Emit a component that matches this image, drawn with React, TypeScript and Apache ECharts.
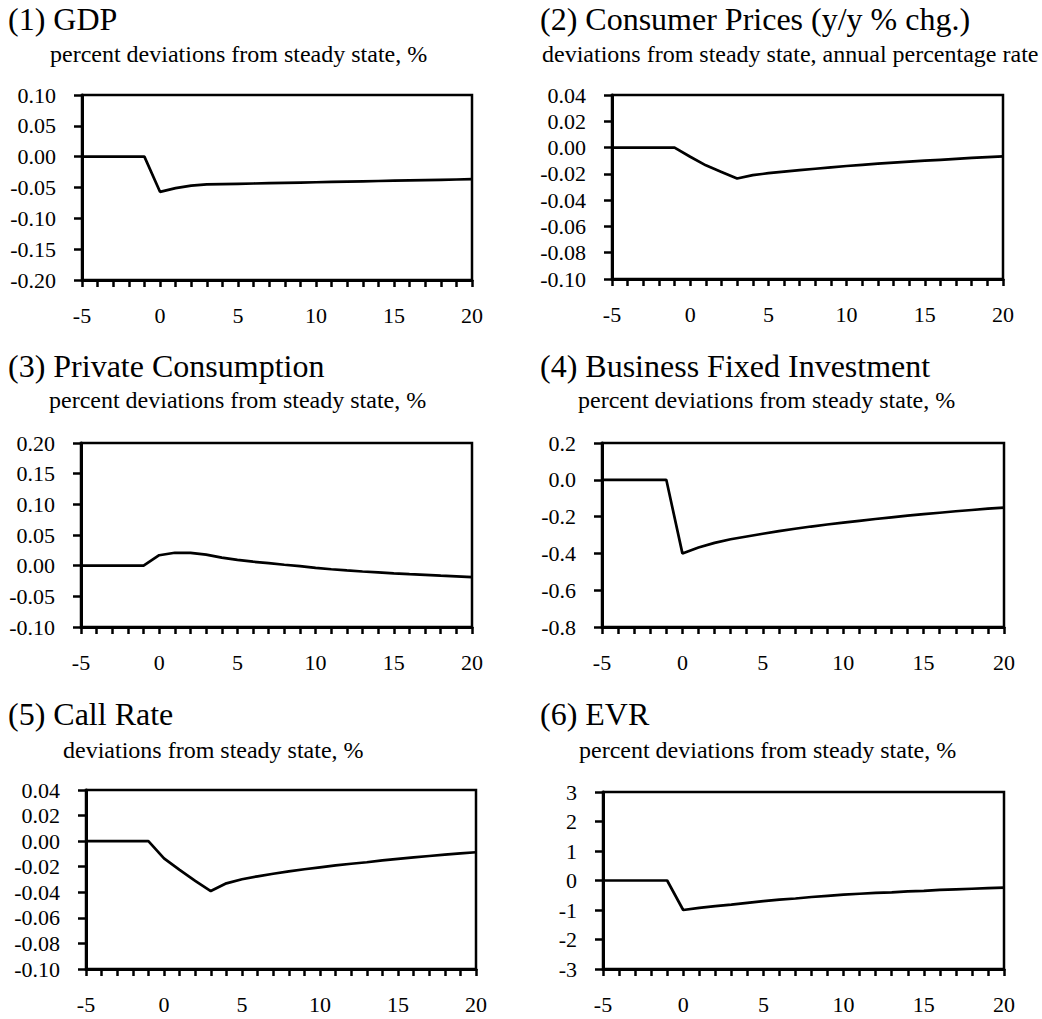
import React, { useEffect, useRef } from "react";
import * as echarts from "echarts";

// ---------- data ----------
const periods = [-5, -4, -3, -2, -1, 0, 1, 2, 3, 4, 5, 6, 7, 8, 9, 10, 11, 12, 13, 14, 15, 16, 17, 18, 19, 20];
const xLabelValues = [-5, 0, 5, 10, 15, 20];

const titles = [
  "(1) GDP",
  "(2) Consumer Prices (y/y % chg.)",
  "(3) Private Consumption",
  "(4) Business Fixed Investment",
  "(5) Call Rate",
  "(6) EVR",
];

const subtitles = [
  "percent deviations from steady state, %",
  "deviations from steady state, annual percentage rate",
  "percent deviations from steady state, %",
  "percent deviations from steady state, %",
  "deviations from steady state, %",
  "percent deviations from steady state, %",
];

const gdp = [0, 0, 0, 0, 0, -0.057, -0.051, -0.047, -0.045, -0.0445, -0.044, -0.0435, -0.043, -0.0425, -0.042, -0.0415, -0.041, -0.0405, -0.04, -0.0395, -0.039, -0.0385, -0.038, -0.0375, -0.037, -0.0365];
const cpi = [0, 0, 0, 0, 0, -0.007, -0.0135, -0.0185, -0.0235, -0.021, -0.0195, -0.0183, -0.0172, -0.0161, -0.015, -0.014, -0.0131, -0.0122, -0.0114, -0.0107, -0.01, -0.0093, -0.0086, -0.0079, -0.0073, -0.0067];
const consumption = [0, 0, 0, 0, 0, 0.017, 0.021, 0.021, 0.018, 0.013, 0.0095, 0.0065, 0.004, 0.0015, -0.0008, -0.0035, -0.0058, -0.0077, -0.0095, -0.011, -0.0125, -0.0138, -0.015, -0.0163, -0.0175, -0.0188];
const investment = [0, 0, 0, 0, 0, -0.4, -0.368, -0.343, -0.323, -0.308, -0.293, -0.279, -0.266, -0.254, -0.243, -0.233, -0.223, -0.213, -0.204, -0.195, -0.187, -0.179, -0.171, -0.164, -0.157, -0.151];
const callRate = [0, 0, 0, 0, 0, -0.0135, -0.0225, -0.031, -0.039, -0.033, -0.0298, -0.0275, -0.0255, -0.0237, -0.022, -0.0205, -0.019, -0.0177, -0.0165, -0.015, -0.0138, -0.0127, -0.0116, -0.0106, -0.0096, -0.0087];
const evr = [0, 0, 0, 0, 0, -1.0, -0.93, -0.87, -0.82, -0.76, -0.7, -0.65, -0.61, -0.56, -0.52, -0.48, -0.45, -0.42, -0.4, -0.37, -0.35, -0.32, -0.3, -0.28, -0.26, -0.24];

const seriesValues = [gdp, cpi, consumption, investment, callRate, evr];

// y-axis scales
const yMins = [-0.2, -0.1, -0.1, -0.8, -0.1, -3];
const yMaxs = [0.1, 0.04, 0.2, 0.2, 0.04, 3];
const yIntervals = [0.05, 0.02, 0.05, 0.2, 0.02, 1];
const yDecimals = [2, 2, 2, 1, 2, 0];

// ---------- layout ----------
const gridBoxes = [
  { left: 82, top: 95, width: 390, height: 185 },
  { left: 612, top: 95, width: 391, height: 184 },
  { left: 81, top: 443, width: 391, height: 184 },
  { left: 602, top: 443, width: 402, height: 184 },
  { left: 86, top: 790, width: 390, height: 179 },
  { left: 603, top: 792, width: 401, height: 177 },
];
const titlePos = [
  { x: 8, y: 19 },
  { x: 540, y: 19 },
  { x: 8, y: 366 },
  { x: 540, y: 366 },
  { x: 8, y: 714 },
  { x: 540, y: 714 },
];
const subtitlePos = [
  { x: 50, y: 54 },
  { x: 542, y: 54 },
  { x: 49, y: 400 },
  { x: 578, y: 400 },
  { x: 63, y: 750 },
  { x: 579, y: 750 },
];

const FONT = "'Liberation Serif', 'Times New Roman', serif";

export default function App() {
  const ref = useRef<HTMLDivElement>(null);

  useEffect(() => {
    if (!ref.current) return;
    const chart = echarts.init(ref.current, undefined, { renderer: "svg" });

    const grid = gridBoxes.map((g) => ({
      ...g,
      show: true,
      borderColor: "#000",
      borderWidth: 2.5,
      backgroundColor: "transparent",
      containLabel: false,
    }));

    const xAxis = gridBoxes.map((_, i) => ({
      type: "value",
      gridIndex: i,
      min: -5,
      max: 20,
      interval: 1,
      axisLine: { show: true, onZero: false, lineStyle: { color: "#000", width: 3 } },
      axisTick: { show: true, inside: false, length: 7, lineStyle: { color: "#000", width: 2.5 } },
      axisLabel: {
        show: true,
        margin: 24,
        color: "#000",
        fontFamily: FONT,
        fontSize: 22,
        formatter: (v: number) => (xLabelValues.indexOf(v) >= 0 ? String(v) : ""),
      },
      splitLine: { show: false },
    }));

    const yAxis = gridBoxes.map((_, i) => ({
      type: "value",
      gridIndex: i,
      min: yMins[i],
      max: yMaxs[i],
      interval: yIntervals[i],
      axisLine: { show: true, onZero: false, lineStyle: { color: "#000", width: 3 } },
      axisTick: { show: true, inside: false, length: 8, lineStyle: { color: "#000", width: 2.5 } },
      axisLabel: {
        show: true,
        margin: 26,
        color: "#000",
        fontFamily: FONT,
        fontSize: 22,
        formatter: (v: number) => {
          const s = Number(v).toFixed(yDecimals[i]);
          return s === "-0.00" || s === "-0.0" || s === "-0" ? s.slice(1) : s;
        },
      },
      splitLine: { show: false },
    }));

    const series = seriesValues.map((vals, i) => ({
      type: "line",
      xAxisIndex: i,
      yAxisIndex: i,
      data: periods.map((p, k) => [p, vals[k]]),
      showSymbol: false,
      symbol: "none",
      lineStyle: { color: "#000", width: 2.7 },
      silent: true,
    }));

    const graphic: any[] = [];
    titles.forEach((t, i) => {
      graphic.push({
        type: "text",
        x: titlePos[i].x,
        y: titlePos[i].y,
        style: {
          text: t,
          fill: "#000",
          font: `32px ${FONT}`,
          textAlign: "left",
          textVerticalAlign: "middle",
        },
      });
    });
    subtitles.forEach((t, i) => {
      graphic.push({
        type: "text",
        x: subtitlePos[i].x,
        y: subtitlePos[i].y,
        style: {
          text: t,
          fill: "#000",
          font: `24px ${FONT}`,
          textAlign: "left",
          textVerticalAlign: "middle",
        },
      });
    });

    chart.setOption({
      animation: false,
      backgroundColor: "#fff",
      grid,
      xAxis,
      yAxis,
      series,
      graphic,
    } as any);

    return () => {
      chart.dispose();
    };
  }, []);

  return (
    <div
      ref={ref}
      style={{ position: "absolute", left: 0, top: 0, width: 1042, height: 1019, background: "#fff" }}
    />
  );
}
